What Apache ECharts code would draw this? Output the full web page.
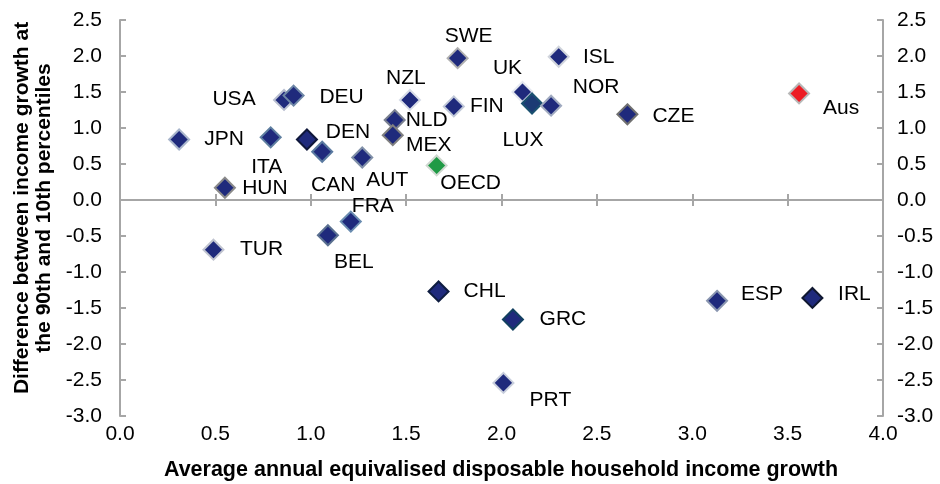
<!DOCTYPE html>
<html>
<head>
<meta charset="utf-8">
<script src="https://cdn.jsdelivr.net/npm/echarts@6/dist/echarts.min.js"></script>
<style>
html,body{margin:0;padding:0;background:#fff;}
#c{width:940px;height:484px;}
</style>
</head>
<body>
<div id="c"></div>
<script>
// ---- data ----
const countries = ['JPN','ITA','USA','DEU','DEN','CAN','AUT','HUN','NZL','NLD','MEX','OECD','SWE','FIN','ISL','UK','LUX','NOR','CZE','Aus','TUR','BEL','FRA','CHL','PRT','GRC','ESP','IRL'];
const xValues = [0.31,0.79,0.86,0.91,0.98,1.06,1.27,0.55,1.52,1.44,1.43,1.66,1.77,1.75,2.30,2.11,2.16,2.26,2.66,3.56,0.49,1.09,1.21,1.67,2.01,2.06,3.13,3.63];
const yValues = [0.84,0.87,1.39,1.45,0.84,0.67,0.59,0.17,1.39,1.11,0.90,0.48,1.97,1.30,1.99,1.50,1.34,1.31,1.19,1.48,-0.69,-0.49,-0.30,-1.27,-2.54,-1.66,-1.40,-1.36];
const xTicks = ['0.0','0.5','1.0','1.5','2.0','2.5','3.0','3.5','4.0'];
const yTicks = ['-3.0','-2.5','-2.0','-1.5','-1.0','-0.5','0.0','0.5','1.0','1.5','2.0','2.5'];

// ---- styles (kept separate from data) ----
const NAVY = '#1f2a7c';
const fillColors = { Aus: '#ec1c24', OECD: '#1f9a45', LUX: '#1c3a74' };
const borderColors = {
  JPN:'#a9b6cc', ITA:'#5f7fa0', USA:'#b8bed0', DEU:'#6d86a6', DEN:'#0f173a', CAN:'#5a7aa0',
  AUT:'#8090a8', HUN:'#8a8a8a', NZL:'#d8dde8', NLD:'#7a8090', MEX:'#808080', OECD:'#cfd8d0',
  SWE:'#b0b0b0', FIN:'#c0c8d8', ISL:'#d0d4dc', UK:'#e4e8f0', LUX:'#1a5070', NOR:'#a0aac0',
  CZE:'#707070', Aus:'#b8b8b8', TUR:'#c0c4d0', BEL:'#5a7090', FRA:'#6a8cb0', CHL:'#0e1c40',
  PRT:'#c8cedc', GRC:'#124060', ESP:'#8a96b0', IRL:'#101830'
};
const labelOffsets = {
  JPN:[45,0], ITA:[-4,30], USA:[-50,-1], DEU:[48,2], DEN:[41,-7], CAN:[11,33], AUT:[25,23],
  HUN:[40,0], NZL:[-4,-22], NLD:[32,0], MEX:[36,10], OECD:[34,18], SWE:[11,-22], FIN:[33,0],
  ISL:[40,0], UK:[-15,-24], LUX:[-9,37], NOR:[45,-18], CZE:[46,2], Aus:[42,15], TUR:[48,0],
  BEL:[26,27], FRA:[22,-15], CHL:[46,0], PRT:[47,17], GRC:[50,0], ESP:[45,-7], IRL:[42,-4]
};

const FONT = 'Liberation Sans, Arial, sans-serif';
const AXIS_COLOR = '#a6a6a6';
const TEXT = '#000';

const points = countries.map((c, i) => ({
  name: c,
  value: [xValues[i], yValues[i]],
  itemStyle: { color: fillColors[c] || NAVY, borderColor: borderColors[c], borderWidth: 2, opacity: 1 },
  label: { offset: labelOffsets[c] }
}));

const chart = echarts.init(document.getElementById('c'), null, { renderer: 'canvas' });
chart.setOption({
  animation: false,
  backgroundColor: '#fff',
  grid: { left: 120, right: 57, top: 20, bottom: 68 },
  xAxis: [
    { type: 'value', min: 0, max: 4, interval: 0.5, position: 'bottom',
      axisLine: { show: false, onZero: false }, axisTick: { show: false }, splitLine: { show: false },
      axisLabel: { margin: 8, fontFamily: FONT, fontSize: 21, color: TEXT,
        formatter: (v) => xTicks[Math.round(v / 0.5)] } },
    { type: 'value', min: 0, max: 4, interval: 0.5,
      axisLine: { show: true, onZero: true, lineStyle: { color: AXIS_COLOR, width: 2 } },
      axisTick: { show: true, inside: true, length: 6, lineStyle: { color: AXIS_COLOR, width: 2 } },
      axisLabel: { show: false }, splitLine: { show: false } },
    { type: 'value', min: 0, max: 4, interval: 0.5,
      axisLine: { show: false, onZero: true },
      axisTick: { show: true, inside: false, length: 6, lineStyle: { color: AXIS_COLOR, width: 2 } },
      axisLabel: { show: false }, splitLine: { show: false } }
  ],
  yAxis: [
    { type: 'value', min: -3, max: 2.5, interval: 0.5, position: 'left',
      axisLine: { show: true, onZero: false, lineStyle: { color: AXIS_COLOR, width: 2 } },
      axisTick: { show: true, inside: true, length: 6, lineStyle: { color: AXIS_COLOR, width: 2 } },
      splitLine: { show: false },
      axisLabel: { margin: 18, fontFamily: FONT, fontSize: 21, color: TEXT,
        formatter: (v) => yTicks[Math.round((v + 3) / 0.5)] } },
    { type: 'value', min: -3, max: 2.5, interval: 0.5, position: 'right',
      axisLine: { show: true, onZero: false, lineStyle: { color: AXIS_COLOR, width: 2 } },
      axisTick: { show: true, inside: true, length: 6, lineStyle: { color: AXIS_COLOR, width: 2 } },
      splitLine: { show: false },
      axisLabel: { margin: 14, fontFamily: FONT, fontSize: 21, color: TEXT,
        formatter: (v) => yTicks[Math.round((v + 3) / 0.5)] } }
  ],
  graphic: [
    { type: 'text', x: 501, y: 470,
      style: { text: 'Average annual equivalised disposable household income growth',
        font: 'bold 21.5px ' + FONT, fill: TEXT, align: 'center', verticalAlign: 'middle' } },
    { type: 'text', x: 33, y: 208, rotation: Math.PI / 2,
      style: { text: 'Difference between income growth at\nthe 90th and 10th percentiles',
        font: 'bold 21px ' + FONT, fill: TEXT, align: 'center', verticalAlign: 'middle', lineHeight: 22 } }
  ],
  series: [{
    type: 'scatter',
    xAxisIndex: 0, yAxisIndex: 0,
    symbol: 'diamond', symbolSize: 20,
    itemStyle: { opacity: 1 },
    data: points,
    label: { show: true, position: 'inside', formatter: '{b}', fontFamily: FONT, fontSize: 21, color: TEXT }
  }]
});
</script>
</body>
</html>
